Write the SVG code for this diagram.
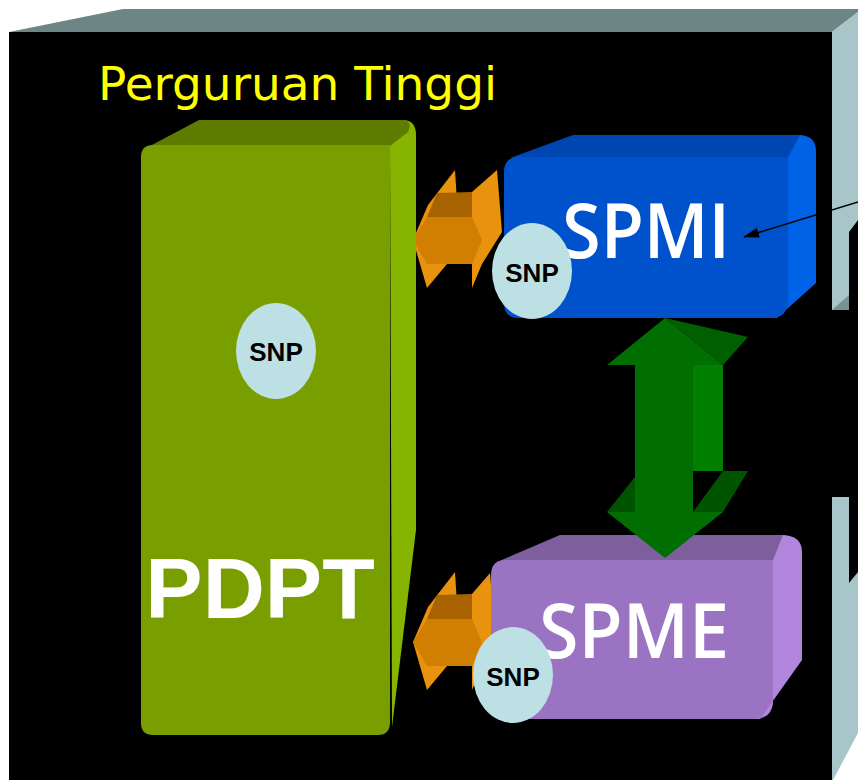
<svg xmlns="http://www.w3.org/2000/svg" width="858" height="780" viewBox="0 0 858 780">
<style>
.snp{fill:#bde0e4}
.snpt{font-family:"Liberation Sans",Arial,sans-serif;font-weight:bold;font-size:26px;fill:#000;text-anchor:middle}
.big{font-family:"Open Sans","DejaVu Sans",sans-serif;font-weight:600;font-size:76px;fill:#fff;text-anchor:middle}
.org1{fill:#e8920e}
.org2{fill:#a86300}
.org3{fill:#d17f00}
</style>
<defs>
<marker id="ah" viewBox="0 0 16 10" refX="15" refY="5" markerWidth="16" markerHeight="10" markerUnits="userSpaceOnUse" orient="auto">
<path d="M0,0 L16,5 L0,10 Z" fill="#000"/>
</marker>
</defs>
<rect width="858" height="780" fill="#fff"/>
<g id="perguruan-tinggi">
<rect x="9" y="32" width="849" height="748" fill="#000"/>
<polygon points="9,32 123,9 858,9 858,12 832,32" fill="#6e8585"/>
<polygon points="832,32 858,12 858,310 832,310" fill="#a8c6ca"/>
<polygon points="849,232 858,220 858,310 849,310" fill="#000"/>
<polygon points="832,310 849,295 849,310" fill="#7b9092"/>
<polygon points="832,497 858,497 858,780 832,780" fill="#a8c6ca"/>
<polygon points="849,497 858,497 858,572 849,583" fill="#000"/>
<polygon points="858,733 858,780 833,780" fill="#fff"/>
<text x="98" y="100" font-family="'DejaVu Sans',Verdana,sans-serif" font-size="46" fill="#ffff00" textLength="399" lengthAdjust="spacingAndGlyphs">Perguruan Tinggi</text>
</g>
<g id="connectors">
<g id="arrow-pdpt-spmi">
<polygon class="org1" points="472,192 497,170 502,232 482,264 472,288"/>
<polygon class="org1" points="455,170 458,217 447,264 427,288 413,240 428,205"/>
<polygon class="org2" points="437,193 472,192 472,217 427,217"/>
<polygon class="org3" points="427,217 472,217 482,240 472,264 427,264 413,240"/>
</g>
<g id="arrow-pdpt-spme">
<polygon class="org1" points="472,594 490,573 495,634 482,666 472,690"/>
<polygon class="org1" points="455,572 458,619 447,666 427,690 413,642 428,607"/>
<polygon class="org2" points="437,595 472,594 472,619 427,619"/>
<polygon class="org3" points="427,619 472,619 482,642 472,666 427,666 413,642"/>
</g>
</g>
<g id="pdpt">
<path d="M390,146 L404,120 Q416,121 416,135 L416,530 L392,727 Z" fill="#86b400"/>
<path d="M150,146 L199,120 L404,120 Q413,122 408,132 L390,146 Z" fill="#5e7c00"/>
<path d="M141,157 Q141,145 153,145 L390,145 L390,722 Q390,735 378,735 L153,735 Q141,735 141,723 Z" fill="#789e00"/>
<ellipse class="snp" cx="276" cy="351" rx="40" ry="48"/>
<text class="snpt" x="276" y="361">SNP</text>
<text x="260" y="618" font-family="'Liberation Sans',Arial,sans-serif" font-weight="bold" font-size="86" fill="#fff" text-anchor="middle">PDPT</text>
</g>
<g id="spmi">
<path d="M510,158 L573,135 L800,135 Q812,137 806,147 L788,158 Z" fill="#0046b2"/>
<path d="M504,172 Q504,157 519,157 L788,157 L788,300 Q788,318 770,318 L519,318 Q504,318 504,303 Z" fill="#0052cc"/>
<path d="M788,157 L800,135 Q816,136 816,151 L816,283 L777,318 L772,318 Q788,316 788,300 Z" fill="#0062e6"/>
<text class="big" x="646" y="258" textLength="168" lengthAdjust="spacingAndGlyphs">SPMI</text>
<ellipse class="snp" cx="532" cy="271" rx="40" ry="48"/>
<text class="snpt" x="532" y="282">SNP</text>
</g>
<g id="spme">
<path d="M497,562 L560,535 L783,535 Q796,537 790,547 L773,560 Z" fill="#7e5f9e"/>
<path d="M491,575 Q491,560 506,560 L773,560 L773,700 Q773,719 754,719 L506,719 Q491,719 491,704 Z" fill="#9b73c3"/>
<path d="M773,560 L783,535 Q802,536 802,552 L802,660 L760,719 L754,719 Q773,717 773,700 Z" fill="#b186dc"/>
<text class="big" x="634" y="658" textLength="190" lengthAdjust="spacingAndGlyphs">SPME</text>
<ellipse class="snp" cx="513" cy="675" rx="40" ry="48"/>
<text class="snpt" x="513" y="686">SNP</text>
</g>
<g id="connectors-2">
<g id="arrow-spmi-spme">
<polygon points="665,318 748,337 723,365" fill="#006000"/>
<polygon points="665,318 607,365 723,365" fill="#006e00"/>
<rect x="693" y="365" width="30" height="106" fill="#007f00"/>
<rect x="635" y="365" width="58" height="147" fill="#006e00"/>
<polygon points="635,477 635,512 607,512" fill="#005400"/>
<polygon points="693,512 723,512 748,471 723,471" fill="#005400"/>
<polygon points="607,512 723,512 665,558" fill="#006e00"/>
</g>
<line x1="858" y1="202" x2="744" y2="237" stroke="#000" stroke-width="1.6" marker-end="url(#ah)"/>
</g>
</svg>
